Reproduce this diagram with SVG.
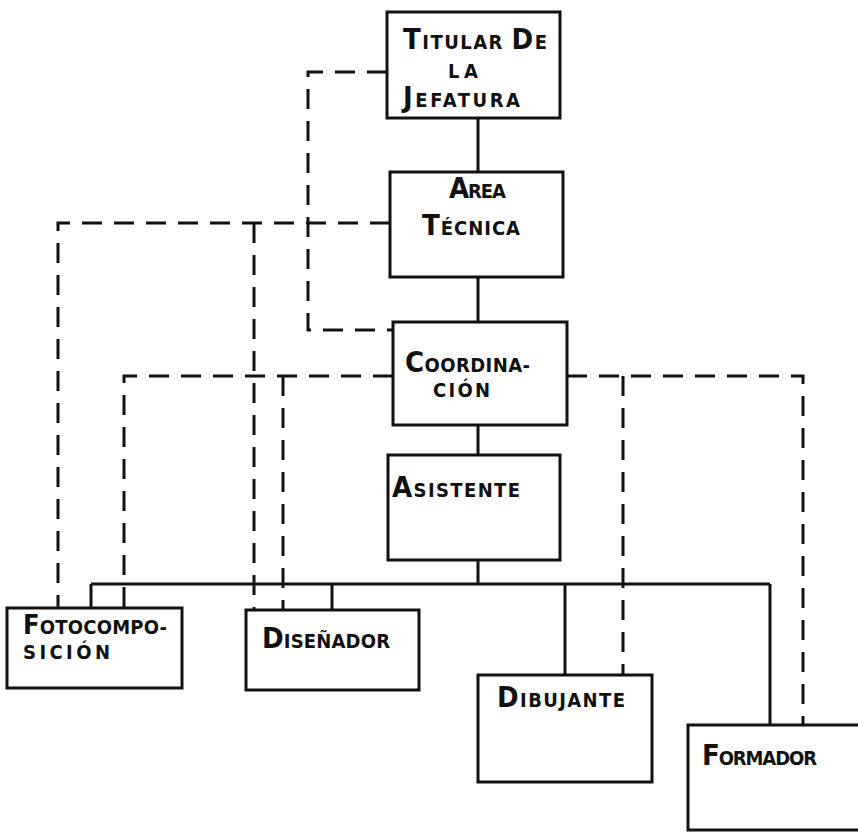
<svg xmlns="http://www.w3.org/2000/svg" width="858" height="832" viewBox="0 0 858 832">
<style>
.box{fill:#fff;stroke:#111;stroke-width:3}
.solid{fill:none;stroke:#111;stroke-width:3}
.dash{fill:none;stroke:#111;stroke-width:3;stroke-dasharray:20 12}
text{font-family:"DejaVu Sans Condensed","DejaVu Sans","Liberation Sans",sans-serif;font-stretch:condensed;font-size:20px;fill:#111;font-weight:bold}
.big{font-size:29px}
.mid{font-size:27px}
</style>
<rect width="858" height="832" fill="#fff"/>
<g id="connectors">
<path class="solid" d="M478 118V172M478 277V322M478 425V455M478 560V584M91 584H770M91 584V608M332 584V610M565 584V675M770 584V725"/>
<path class="dash" d="M387 72H308V330H393"/>
<path class="dash" d="M390 223H58V608"/>
<path class="dash" d="M254 223V610"/>
<path class="dash" d="M393 376H124V608"/>
<path class="dash" d="M283 376V610"/>
<path class="dash" d="M567 376H803V725"/>
<path class="dash" d="M623 376V675"/>
</g>
<g id="titular">
<rect class="box" x="387" y="12" width="173" height="106"/>
<text x="403" y="49" textLength="144"><tspan class="big">T</tspan>ITULAR <tspan class="big">D</tspan>E</text>
<text x="448" y="78" textLength="30">LA</text>
<text x="403" y="107" textLength="117"><tspan class="big">J</tspan>EFATURA</text>
</g>
<g id="area-tecnica">
<rect class="box" x="390" y="172" width="173" height="105"/>
<text x="449" y="198" textLength="57"><tspan class="big">A</tspan>REA</text>
<text x="422" y="235" textLength="98"><tspan class="big">T</tspan>ÉCNICA</text>
</g>
<g id="coordinacion">
<rect class="box" x="393" y="322" width="174" height="103"/>
<text x="405" y="372" textLength="125"><tspan class="big">C</tspan>OORDINA-</text>
<text x="433" y="397" textLength="57">CIÓN</text>
</g>
<g id="asistente">
<rect class="box" x="388" y="455" width="172" height="105"/>
<text x="392" y="497" textLength="128"><tspan class="big">A</tspan>SISTENTE</text>
</g>
<g id="fotocomposicion">
<rect class="box" x="7" y="608" width="175" height="80"/>
<text x="23" y="634" textLength="144"><tspan class="mid">F</tspan>OTOCOMPO-</text>
<text x="23" y="659" textLength="87">SICIÓN</text>
</g>
<g id="disenador">
<rect class="box" x="246" y="610" width="173" height="80"/>
<text x="262" y="648" textLength="128"><tspan class="big">D</tspan>ISEÑADOR</text>
</g>
<g id="dibujante">
<rect class="box" x="478" y="675" width="174" height="107"/>
<text x="497" y="707" textLength="128"><tspan class="big">D</tspan>IBUJANTE</text>
</g>
<g id="formador">
<rect class="box" x="688" y="725" width="172" height="105"/>
<text x="702" y="765" textLength="115"><tspan class="big">F</tspan>ORMADOR</text>
</g>
</svg>
